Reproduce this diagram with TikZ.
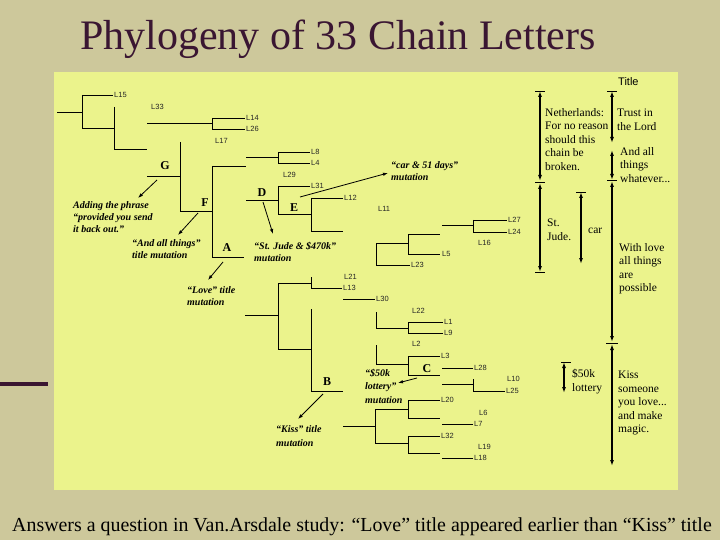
\documentclass[tikz,border=0pt]{standalone}
\usepackage{fontspec}
\setmainfont{Liberation Serif}
\setsansfont{Liberation Sans}
\usetikzlibrary{arrows.meta}
\definecolor{slidetan}{RGB}{205,200,155}
\definecolor{panelyellow}{RGB}{235,243,140}
\definecolor{titleplum}{RGB}{58,22,50}

\begin{document}
\begin{tikzpicture}[x=1pt, y=-1pt,
  branch/.style={line width=0.8pt},
  leaf/.style={font=\sffamily\fontsize{7.5}{8}\selectfont, text=black!85, anchor=west, inner sep=1pt},
  mutlabel/.style={font=\bfseries\fontsize{12}{12}\selectfont, inner sep=0pt},
  mutnote/.style={font=\bfseries\itshape\fontsize{10}{12}\selectfont, align=left, anchor=north west, inner sep=0pt},
  mutarrow/.style={line width=0.8pt, -{Latex[length=5pt,width=3.5pt]}},
  period/.style={line width=1.6pt},
  bothtips/.style={{Latex[length=6pt,width=4pt]}-{Latex[length=6pt,width=4pt]}},
  periodtext/.style={font=\fontsize{11.5}{13.5}\selectfont, align=left, anchor=north west, inner sep=0pt},
  tick/.style={line width=0.8pt}]
  \useasboundingbox (0,0) rectangle (720,540);
  % slide and panel
  \fill[slidetan] (0,0) rectangle (720,540);
  \fill[panelyellow] (54,72) rectangle (678,490);
  \fill[titleplum] (0,382) rectangle (48,386);
  \node[anchor=base west, inner sep=0pt, text=titleplum, font=\fontsize{42}{44}\selectfont] (title) at (80,50) {Phylogeny of 33 Chain Letters};
  \node[anchor=base west, inner sep=0pt, font=\fontsize{19.9}{21}\selectfont] (caption) at (12,531) {Answers a question in Van.Arsdale study: “Love” title appeared earlier than “Kiss” title};

  % upper clade
  \draw[branch] (57,112) -- (82,112) (82,95) -- (82,128) (82,95) -- (113,95) (82,128) -- (114,128);
  \draw[branch] (114,107) -- (114,149) -- (147,149);
  \draw[branch] (147,123) -- (212,123) (212,118) -- (212,129) (212,118) -- (245,118) (212,129) -- (245,129);
  \draw[branch] (147,176) -- (180,176) (180,142) -- (180,211) -- (212,211);
  \draw[branch] (212,166) -- (212,257) -- (244,257) (212,166) -- (246,166);
  \draw[branch] (246,157) -- (278,157) (278,152) -- (278,163) (278,152) -- (310,152) (278,163) -- (310,163);
  \draw[branch] (246,200) -- (278,200) (278,186) -- (278,214) (278,186) -- (310,186) (278,214) -- (311,214);
  \draw[branch] (311,198) -- (311,231) (311,198) -- (343,198) (311,231) -- (343,231);
  \draw[branch] (442,225) -- (473,225) (473,220) -- (473,232) (473,220) -- (507,220) (473,232) -- (507,232);
  \draw[branch] (408,234) -- (408,254) (408,234) -- (440,234) (408,254) -- (440,254);
  \draw[branch] (376,243) -- (376,265) (376,243) -- (408,243) (376,265) -- (410,265);

  % lower clade
  \draw[branch] (245,315) -- (278,315) (278,283) -- (278,349) (278,283) -- (311,283) (278,349) -- (311,349);
  \draw[branch] (311,277) -- (311,288) -- (342,288);
  \draw[branch] (343,299) -- (375,299);
  \draw[branch] (311,309) -- (311,391) -- (343,391);
  \draw[branch] (376,312) -- (376,328) -- (408,328) (408,322) -- (408,333) (408,322) -- (443,322) (408,333) -- (443,333);
  \draw[branch] (376,345) -- (376,364) -- (408,364) (408,356) -- (408,375) (408,356) -- (440,356) (408,375) -- (440,375);
  \draw[branch] (442,368) -- (473,368);
  \draw[branch] (442,384) -- (473,384) (473,379) -- (473,391) -- (505,391);
  \draw[branch] (343,426) -- (375,426) (375,409) -- (375,443) (375,409) -- (408,409) (408,400) -- (408,418) (408,400) -- (440,400) (408,418) -- (440,418);
  \draw[branch] (442,424) -- (473,424);
  \draw[branch] (375,443) -- (408,443) (408,436) -- (408,453) (408,436) -- (440,436) (408,453) -- (440,453);
  \draw[branch] (442,458) -- (473,458);

  % letters
  \node[leaf] (l15) at (113,95) {L15};
  \node[leaf] (l33) at (150,107) {L33};
  \node[leaf] (l14) at (245,118) {L14};
  \node[leaf] (l26) at (245,129) {L26};
  \node[leaf] (l17) at (214,141) {L17};
  \node[leaf] (l8) at (310,152) {L8};
  \node[leaf] (l4) at (310,163) {L4};
  \node[leaf] (l29) at (282,175) {L29};
  \node[leaf] (l31) at (310,186) {L31};
  \node[leaf] (l12) at (343,198) {L12};
  \node[leaf] (l11) at (377,209) {L11};
  \node[leaf] (l27) at (507,220) {L27};
  \node[leaf] (l24) at (507,232) {L24};
  \node[leaf] (l16) at (477,243) {L16};
  \node[leaf] (l5) at (441,254) {L5};
  \node[leaf] (l23) at (410,265) {L23};
  \node[leaf] (l21) at (343,277) {L21};
  \node[leaf] (l13) at (342,288) {L13};
  \node[leaf] (l30) at (375,299) {L30};
  \node[leaf] (l22) at (411,311) {L22};
  \node[leaf] (l1) at (443,322) {L1};
  \node[leaf] (l9) at (443,333) {L9};
  \node[leaf] (l2) at (411,344) {L2};
  \node[leaf] (l3) at (440,356) {L3};
  \node[leaf] (l28) at (473,368) {L28};
  \node[leaf] (l10) at (506,379) {L10};
  \node[leaf] (l25) at (505,391) {L25};
  \node[leaf] (l20) at (440,400) {L20};
  \node[leaf] (l6) at (478,413) {L6};
  \node[leaf] (l7) at (473,424) {L7};
  \node[leaf] (l32) at (440,436) {L32};
  \node[leaf] (l19) at (477,447) {L19};
  \node[leaf] (l18) at (473,458) {L18};

  % mutation points
  \node[mutlabel] (G) at (165,166) {G};
  \node[mutlabel] (F) at (205,203) {F};
  \node[mutlabel] (D) at (262,193) {D};
  \node[mutlabel] (E) at (294,208) {E};
  \node[mutlabel] (A) at (227,248) {A};
  \node[mutlabel] (B) at (327,382) {B};
  \node[mutlabel] (C) at (427,369) {C};

  % mutation notes
  \node[mutnote] (gNote) at (73,201) {Adding the phrase\\ ``provided you send\\ it back out.''};
  \node[mutnote] (fNote) at (132,239) {``And all things''\\ title mutation};
  \node[mutnote] (aNote) at (187,286) {``Love'' title\\ mutation};
  \node[mutnote] (dNote) at (254,242) {``St. Jude \& \$470k''\\ mutation};
  \node[mutnote] (eNote) at (391,161) {``car \& 51 days''\\ mutation};
  \node[mutnote, font=\bfseries\itshape\fontsize{10}{13.5}\selectfont] (cNote) at (365,369) {``\$50k\\ lottery''\\ mutation};
  \node[mutnote, font=\bfseries\itshape\fontsize{10}{14}\selectfont] (bNote) at (276,425) {``Kiss'' title\\ mutation};
  \coordinate (gTail) at (157,180); \coordinate (gHead) at (138,198);
  \coordinate (fTail) at (198,213); \coordinate (fHead) at (178,235);
  \coordinate (aTail) at (223,262); \coordinate (aHead) at (208,280);
  \coordinate (dTail) at (263,202); \coordinate (dHead) at (273,234);
  \coordinate (eTail) at (300,197); \coordinate (eHead) at (388,173);
  \coordinate (cTail) at (417,378); \coordinate (cHead) at (398,383);
  \coordinate (bTail) at (323,394); \coordinate (bHead) at (298,419);
  \draw[mutarrow] (gTail) -- (gHead);
  \draw[mutarrow] (fTail) -- (fHead);
  \draw[mutarrow] (aTail) -- (aHead);
  \draw[mutarrow] (dTail) -- (dHead);
  \draw[mutarrow] (eTail) -- (eHead);
  \draw[mutarrow] (cTail) -- (cHead);
  \draw[mutarrow] (bTail) -- (bHead);

  % title periods
  \node[anchor=west, inner sep=0pt, font=\sffamily\fontsize{11}{12}\selectfont] (titleHead) at (618,82) {Title};
  \draw[tick] (535,91) -- (545,91) (535,182) -- (545,182) (535,272) -- (545,272);
  \draw[period, bothtips] (540,91) -- (540,181);
  \draw[period, bothtips] (540,183) -- (540,272);
  \draw[tick] (576,192) -- (586,192) (607,91) -- (617,91) (607,180) -- (617,180) (606,343) -- (618,343) (561,362) -- (571,362);
  \draw[period, bothtips] (581,192) -- (581,264);
  \draw[period, bothtips] (612,91) -- (612,143);
  \draw[period, bothtips] (612,150) -- (612,180);
  \draw[period, bothtips] (612,181) -- (612,342);
  \draw[period, bothtips] (612,344) -- (612,466);
  \draw[period, bothtips] (564,362) -- (564,393);
  \node[periodtext] (nlText) at (545,108) {Netherlands:\\ For no reason\\ should this\\ chain be\\ broken.};
  \node[periodtext] (judeText) at (547,219) {St.\\ Jude.};
  \node[periodtext] (carText) at (588,228) {car};
  \node[periodtext] (lordText) at (617,109) {Trust in\\ the Lord};
  \node[periodtext] (allText) at (620,147) {And all\\ things\\ whatever...};
  \node[periodtext] (loveText) at (619,243) {With love\\ all things\\ are\\ possible};
  \node[periodtext] (lottoText) at (572,369) {\$50k\\ lottery};
  \node[periodtext] (kissText) at (618,371) {Kiss\\ someone\\ you love...\\ and make\\ magic.};
\end{tikzpicture}
\end{document}
